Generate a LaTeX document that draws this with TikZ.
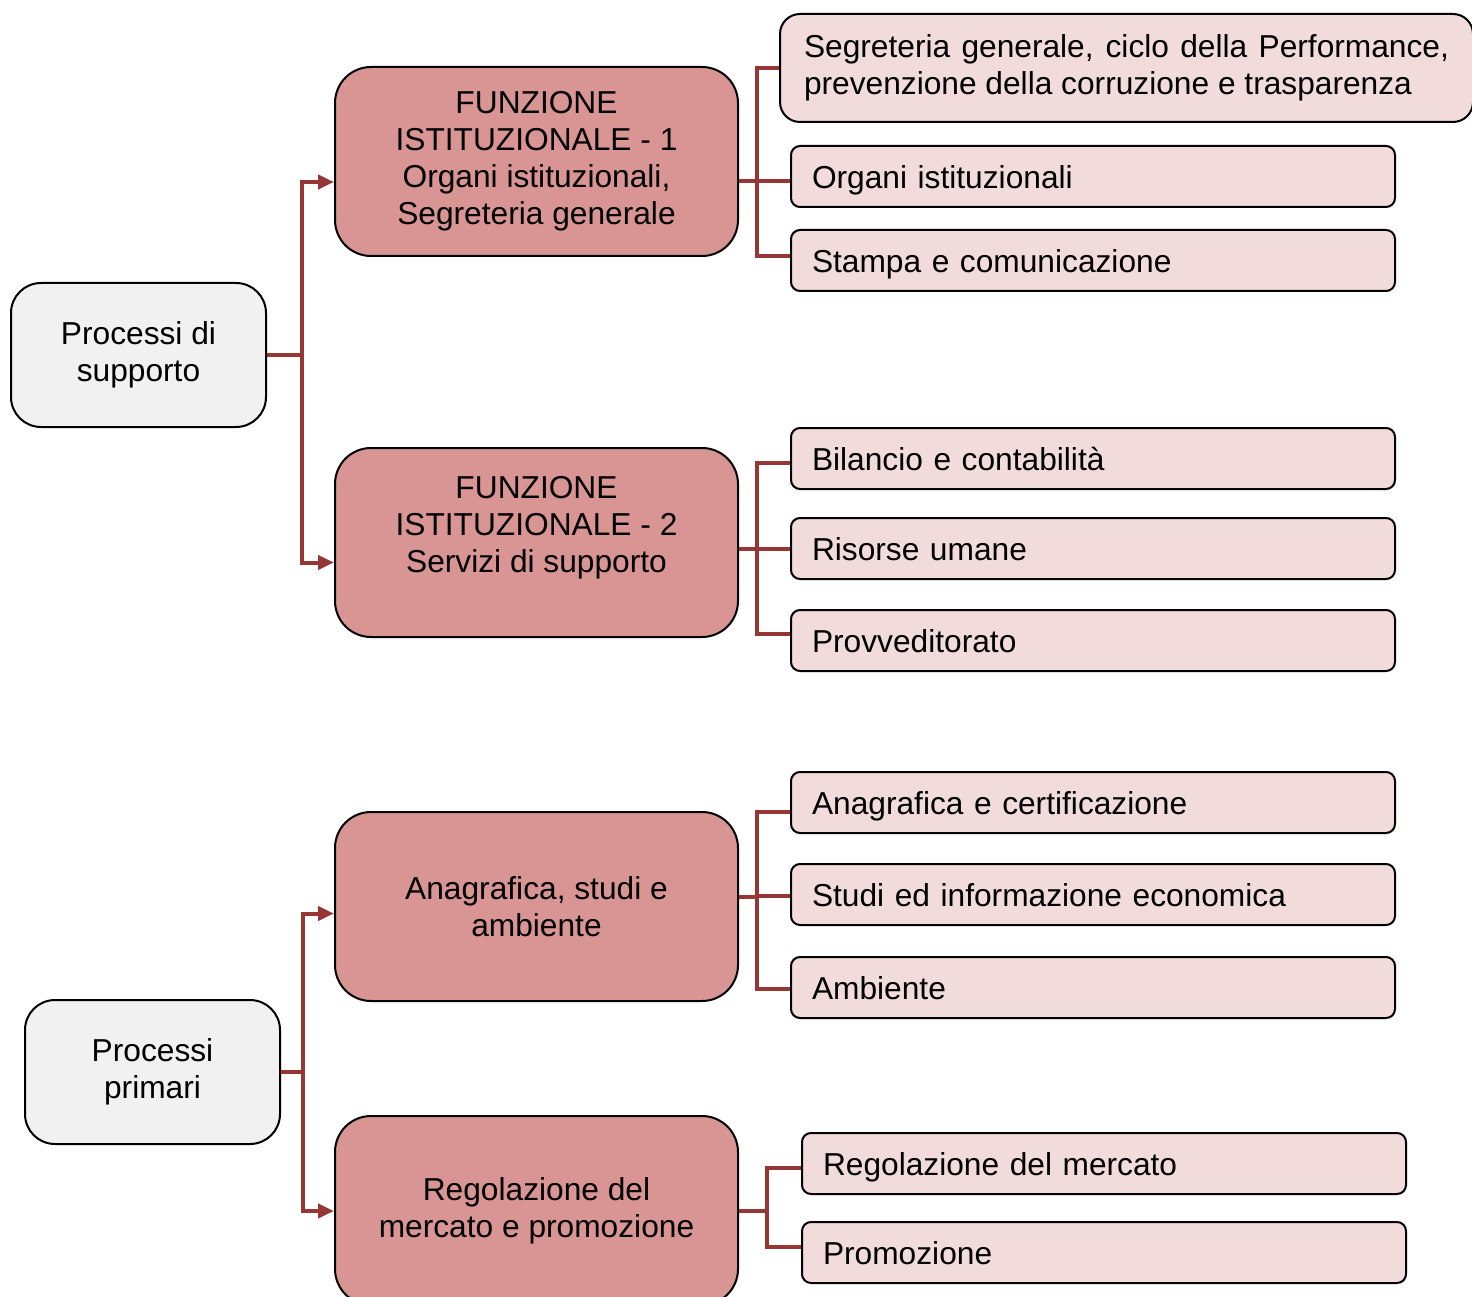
\documentclass[tikz,border=0pt]{standalone}
\usepackage{fontspec}
\setmainfont{Liberation Sans}
\usetikzlibrary{arrows.meta}
\definecolor{connred}{RGB}{150,55,53}
\definecolor{boxred}{RGB}{217,149,148}
\definecolor{boxpink}{RGB}{242,220,219}
\definecolor{boxgray}{RGB}{241,241,241}
\begin{document}
\begin{tikzpicture}[x=1pt,y=-1pt,
  every node/.style={font=\fontsize{31.7}{37}\selectfont},
  graybox/.style={draw=black,line width=2pt,fill=boxgray,rounded corners=30pt,
    minimum width=255pt,minimum height=144pt,align=center,anchor=north west,inner sep=0pt},
  bigbox/.style={draw=black,line width=2pt,fill=boxred,rounded corners=36pt,
    minimum width=403pt,minimum height=189pt,align=center,anchor=north west,inner sep=0pt},
  smallbox/.style={draw=black,line width=2pt,fill=boxpink,rounded corners=9pt,
    minimum height=61pt,text width=562pt,text height=30pt,text depth=6pt,
    inner xsep=21pt,inner ysep=0pt,align=left,anchor=north west},
  conn/.style={draw=connred,line width=4pt},
  arr/.style={conn,-{Triangle[length=16pt,width=14pt]}}
]
\useasboundingbox (0,0) rectangle (1472,1297);
\clip (0,0) rectangle (1472,1297);
\fill[white] (0,0) rectangle (1472,1297);

% left boxes
\node[graybox] (ps) at (10,282) {Processi di\\supporto};
\node[graybox] (pp) at (24,999) {Processi\\primari};

% middle boxes
\node[bigbox] (f1) at (334,66) {FUNZIONE\\ISTITUZIONALE - 1\\Organi istituzionali,\\Segreteria generale};
\node[bigbox] (f2) at (334,447) {FUNZIONE\\ISTITUZIONALE - 2\\Servizi di supporto\\\mbox{}};
\node[bigbox] (an) at (334,811) {Anagrafica, studi e\\ambiente};
\node[bigbox] (rg) at (334,1115) {Regolazione del\\mercato e promozione};

% right boxes
\node[draw=black,line width=2pt,fill=boxpink,rounded corners=20pt,anchor=north west,
  minimum height=108pt,text width=645pt,inner xsep=24pt,inner ysep=0pt,align=justify] (sg) at (779,13)
  {Segreteria generale, ciclo della Performance, prevenzione della corruzione e trasparenza};
\node[smallbox] (oi) at (790,145) {Organi istituzionali};
\node[smallbox] (sc) at (790,229) {Stampa e comunicazione};
\node[smallbox] (bc) at (790,427) {Bilancio e contabilità};
\node[smallbox] (ru) at (790,517) {Risorse umane};
\node[smallbox] (pv) at (790,609) {Provveditorato};
\node[smallbox] (ac) at (790,771) {Anagrafica e certificazione};
\node[smallbox] (si) at (790,863) {Studi ed informazione economica};
\node[smallbox] (am) at (790,956) {Ambiente};
\node[smallbox] (rm) at (801,1132) {Regolazione del mercato};
\node[smallbox] (pr) at (801,1221) {Promozione};

% left connectors
\draw[conn] (ps.east) -- ++(35,0) coordinate (ja);
\draw[arr] (ja) |- ([yshift=-20.5pt]f1.west);
\draw[arr] (ja) |- ([yshift=-20pt]f2.west);
\draw[conn] (pp.east) -- ++(22,0) coordinate (jb);
\draw[arr] (jb) |- ([yshift=-7pt]an.west);
\draw[arr] (jb) |- ([yshift=-0.5pt]rg.west);

% right connectors
\draw[conn] ([yshift=-20pt]f1.east) -- ++(18,0) coordinate (j1);
\draw[conn] (j1) |- (sg.west);
\draw[conn] (j1) |- ([yshift=-4.5pt]oi.west);
\draw[conn] (j1) |- ([yshift=4.5pt]sc.west);

\draw[conn] ([yshift=-6.5pt]f2.east) -- ++(18,0) coordinate (j2);
\draw[conn] (j2) |- ([yshift=-4.5pt]bc.west);
\draw[conn] (j2) |- (ru.west);
\draw[conn] (j2) |- ([yshift=6.5pt]pv.west);

\draw[conn] ([yshift=10pt]an.east) -- ++(18,0) coordinate (j3);
\draw[conn] (j3) |- ([yshift=-9.5pt]ac.west);
\draw[conn] (j3) |- ([yshift=-1.5pt]si.west);
\draw[conn] (j3) |- ([yshift=-1pt]am.west);

\draw[conn] (rg.east) -- ++(28,0) coordinate (j4);
\draw[conn] (j4) |- ([yshift=-4pt]rm.west);
\draw[conn] (j4) |- ([yshift=5.5pt]pr.west);
\end{tikzpicture}
\end{document}
